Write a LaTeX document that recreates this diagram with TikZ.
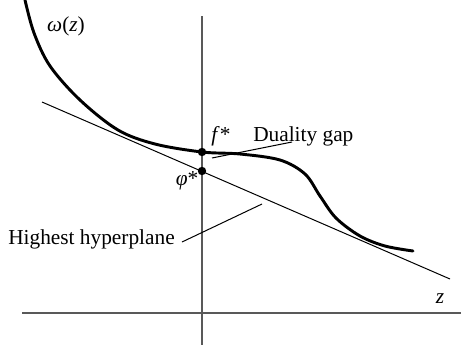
\documentclass[tikz,border=0pt]{standalone}
\usepackage{fontspec}
\setmainfont{Liberation Serif}
\begin{document}
\begin{tikzpicture}[x=0.75pt,y=-0.75pt,
  axis/.style={draw=black!65,line width=1pt},
  thin/.style={draw=black,line width=0.75pt},
  fcurve/.style={draw=black,line width=2.2pt,line cap=round},
  dot/.style={circle,fill=black,inner sep=0pt,minimum size=6.3pt},
  lbl/.style={inner sep=0pt,font=\fontsize{16}{19}\selectfont}]
\useasboundingbox (0,0) rectangle (461,347);
% axes
\coordinate (vtop) at (202,16);
\coordinate (vbot) at (202,345);
\coordinate (hl) at (22,313);
\coordinate (hr) at (461,313);
\draw[axis] (vtop) -- (vbot);
\draw[axis] (hl) -- (hr);
% hyperplane
\coordinate (hpA) at (42,102);
\coordinate (hpB) at (450,279);
\draw[thin] (hpA) -- (hpB);
% curve
\draw[fcurve] plot[smooth,tension=0.55] coordinates {(25,0) (34,33) (50,66) (80,100) (118,130) (155,144) (202,152) (240,154) (280,160) (305,174) (320,196) (336,218) (360,236) (385,246) (413,251)};
% dots
\node[dot] (fstar) at (202,152) {};
\node[dot] (phistar) at (202,171) {};
% labels
\node[lbl] (omega) at (66,26) {\itshape ω\/\upshape(\itshape z\/\upshape)};
\node[lbl] (flab) at (221,136) {\itshape f\/\upshape*};
\node[lbl] (philab) at (187,181) {\itshape φ\/\upshape*};
\node[lbl,anchor=west] (gap) at (253,136) {Duality gap};
\node[lbl,anchor=west] (high) at (8,239) {Highest hyperplane};
\node[lbl] (zlab) at (440,299) {\itshape z};
% leaders
\coordinate (gapA) at (212,158);
\coordinate (gapB) at (292,142);
\draw[thin] (gapA) -- (gapB);
\coordinate (hiA) at (182,242);
\coordinate (hiB) at (262,204);
\draw[thin] (hiA) -- (hiB);
\end{tikzpicture}
\end{document}
